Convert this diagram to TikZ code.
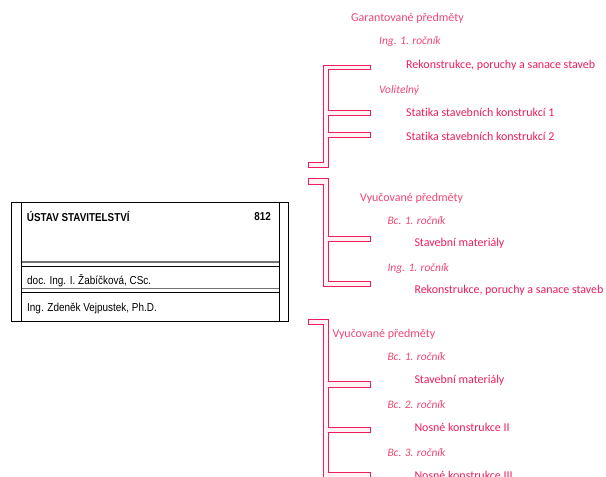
\documentclass[tikz,border=0pt]{standalone}
\usepackage{fontspec}
\setmainfont[Ligatures={NoCommon}]{Carlito}
\newfontfamily\narrowfont[FakeStretch=0.86]{Liberation Sans}
\definecolor{pinkc}{RGB}{236,30,92}
\definecolor{pinkl}{RGB}{240,70,115}
\begin{document}
\begin{tikzpicture}[x=1bp,y=-1bp,
  br/.style={draw=pinkc,fill=pinkc!6,line width=1bp},
  boxline/.style={draw=black,line width=0.7bp},
  sepgray/.style={draw=black!55,line width=1.1bp},
  head/.style={anchor=west,inner sep=0pt,text=pinkl,font=\fontsize{12}{14}\selectfont},
  sub/.style={anchor=west,inner sep=0pt,text=pinkl,font=\fontsize{11.5}{13}\selectfont\itshape},
  item/.style={anchor=west,inner sep=0pt,text=pinkc,font=\fontsize{12}{14}\selectfont},
  btxt/.style={anchor=west,inner sep=0pt,font=\narrowfont\fontsize{11.6}{13}\selectfont},
  bbold/.style={anchor=west,inner sep=0pt,font=\narrowfont\bfseries\fontsize{11.5}{13}\selectfont}]
\useasboundingbox (0,0) rectangle (606,477);
\begin{scope}
\clip (0,0) rectangle (606,477);
% bracket 1
\draw[br] (323,65.3) -- (370,65.3) -- (370,70) -- (328,70) -- (328,110.3) -- (370,110.3) -- (370,115.7) -- (328,115.7) -- (328,132.7) -- (370,132.7) -- (370,138) -- (328,138) -- (328,167.7) -- (308.3,167.7) -- (308.3,162.3) -- (323,162.3) -- cycle;
% bracket 2
\draw[br] (308.3,179) -- (328,179) -- (328,236.7) -- (370,236.7) -- (370,241.7) -- (328,241.7) -- (328,281) -- (370,281) -- (370,286.7) -- (323,286.7) -- (323,184.3) -- (308.3,184.3) -- cycle;
% bracket 3
\draw[br] (308.3,319) -- (328,319) -- (328,381.7) -- (370,381.7) -- (370,387.3) -- (328,387.3) -- (328,427.3) -- (370,427.3) -- (370,432.7) -- (328,432.7) -- (328,472.3) -- (370,472.3) -- (370,490) -- (323,490) -- (323,324.3) -- (308.3,324.3) -- cycle;
\end{scope}
% texts group 1
\node[head] (g1) at (351,18.3) {Garantované předměty};
\node[sub] (g1a) at (379,41.7) {Ing. 1. ročník};
\node[item] (g1b) at (406,65.7) {Rekonstrukce, poruchy a sanace staveb};
\node[sub] (g1c) at (379,90) {Volitelný};
\node[item] (g1d) at (406,112.3) {Statika stavebních konstrukcí 1};
\node[item] (g1e) at (406,136.7) {Statika stavebních konstrukcí 2};
% group 2
\node[head] (g2) at (360,198.3) {Vyučované předměty};
\node[sub] (g2a) at (387.3,220.7) {Bc. 1. ročník};
\node[item] (g2b) at (414.3,243.3) {Stavební materiály};
\node[sub] (g2c) at (387.3,269) {Ing. 1. ročník};
\node[item] (g2d) at (414.3,290.7) {Rekonstrukce, poruchy a sanace staveb};
% group 3
\node[head] (g3) at (332.3,334) {Vyučované předměty};
\node[sub] (g3a) at (387.3,356.7) {Bc. 1. ročník};
\node[item] (g3b) at (414.3,380) {Stavební materiály};
\node[sub] (g3c) at (387.3,404.3) {Bc. 2. ročník};
\node[item] (g3d) at (414.3,427.3) {Nosné konstrukce II};
\node[sub] (g3e) at (387.3,452.3) {Bc. 3. ročník};
\node[item] (g3f) at (414.3,475) {Nosné konstrukce III};
% left box
\draw[boxline] (11.7,202.5) -- (288.3,202.5);
\draw[boxline] (11.7,321.7) -- (288.3,321.7);
\draw[boxline] (11.7,202.5) -- (11.7,321.7);
\draw[boxline] (21.7,202.5) -- (21.7,321.7);
\draw[boxline] (279,202.5) -- (279,321.7);
\draw[boxline] (288.3,202.5) -- (288.3,321.7);
\draw[sepgray] (21.7,262) -- (279,262);
\draw[boxline] (21.7,266) -- (279,266);
\draw[sepgray] (21.7,288.7) -- (279,288.7);
\draw[boxline] (21.7,292) -- (279,292);
\node[bbold] (t1) at (26.7,216.7) {ÚSTAV STAVITELSTVÍ};
\node[bbold,anchor=east] (t2) at (271,216.7) {812};
\node[btxt] (t3) at (27,280.7) {doc. Ing. I. Žabíčková, CSc.};
\node[btxt] (t4) at (27,308.3) {Ing. Zdeněk Vejpustek, Ph.D.};
\end{tikzpicture}
\end{document}
